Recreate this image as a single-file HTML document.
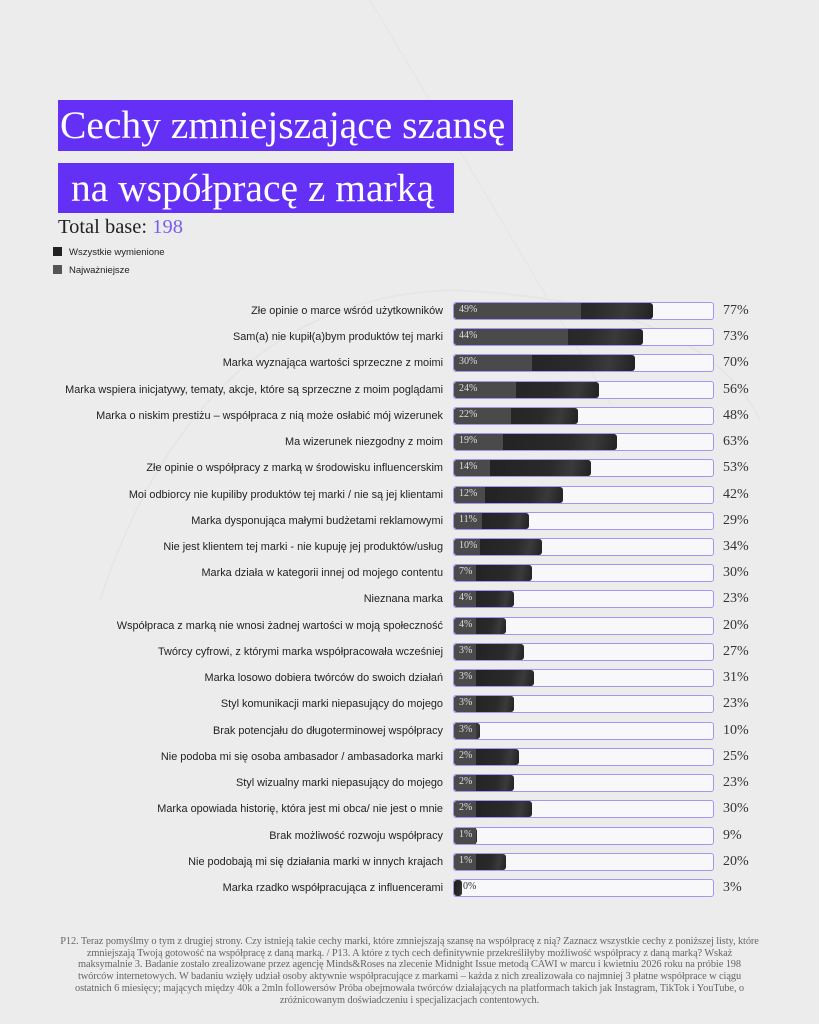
<!DOCTYPE html>
<html><head><meta charset="utf-8"><style>
body{margin:0;width:819px;height:1024px;background:#ececec;position:relative;overflow:hidden;font-family:"Liberation Sans",sans-serif}
.t{position:absolute;left:58px;background:#6530f5;color:#fff;font-family:"Liberation Serif",serif;font-size:39.5px;line-height:50px;white-space:nowrap}
.row{position:absolute;left:0;width:819px;height:18px}
.lab{position:absolute;right:376px;top:1px;font-size:10.9px;color:#222;white-space:nowrap;line-height:16px}
.tr{position:absolute;left:453px;width:259px;height:16px;top:0;border:1px solid #a595f3;border-radius:3px;background:#f8f8fa}
.dk{position:absolute;left:0;top:0;height:16px;background:linear-gradient(100deg,#1e1e1e 0%,#2a2a2a 70%,#3a3a3a 85%,#222 100%);border-radius:3px}
.gr{position:absolute;left:0;top:0;height:16px;background:#4a4a4a;border-radius:3px 0 0 3px;color:#ddd;font-family:"Liberation Serif",serif;font-size:10px;line-height:14px;padding-left:5px;box-sizing:border-box;min-width:22px;white-space:nowrap}
.v{position:absolute;left:723px;top:0;font-family:"Liberation Serif",serif;font-size:14px;color:#333;line-height:18px}
.foot{position:absolute;left:0;width:819px;top:936px;text-align:center;font-family:"Liberation Serif",serif;font-size:10.4px;line-height:11.7px;color:#666;letter-spacing:-0.1px;white-space:nowrap}
</style></head><body>
<svg style="position:absolute;left:0;top:0" width="819" height="1024"><path d="M100 600 Q200 300 450 290 Q700 300 760 420" fill="none" stroke="#e6e6e6" stroke-width="2"/><path d="M370 0 L620 420" stroke="#e7e7e7" stroke-width="1.5"/></svg>
<div class="t" style="top:100px;width:455px;height:51px;padding-left:2px;box-sizing:border-box">Cechy zmniejszające szansę</div>
<div class="t" style="top:163px;width:396px;height:50px;padding-left:13px;box-sizing:border-box">na współpracę z marką</div>
<div style="position:absolute;left:58px;top:216px;font-family:'Liberation Serif',serif;font-size:20.5px;color:#222">Total base: <span style="color:#7b5cf0">198</span></div>
<div style="position:absolute;left:53px;top:247px;font-size:9.5px;color:#222"><span style="display:inline-block;width:9px;height:9px;background:#222;margin-right:7px;vertical-align:-1px"></span>Wszystkie wymienione</div>
<div style="position:absolute;left:53px;top:265px;font-size:9.5px;color:#222"><span style="display:inline-block;width:9px;height:9px;background:#555;margin-right:7px;vertical-align:-1px"></span>Najważniejsze</div>

<div class="row" style="top:302px"><div class="lab">Złe opinie o marce wśród użytkowników</div><div class="tr"><div class="dk" style="width:77%"></div><div class="gr" style="width:49%">49%</div></div><div class="v">77%</div></div>
<div class="row" style="top:328px"><div class="lab">Sam(a) nie kupił(a)bym produktów tej marki</div><div class="tr"><div class="dk" style="width:73%"></div><div class="gr" style="width:44%">44%</div></div><div class="v">73%</div></div>
<div class="row" style="top:354px"><div class="lab">Marka wyznająca wartości sprzeczne z moimi</div><div class="tr"><div class="dk" style="width:70%"></div><div class="gr" style="width:30%">30%</div></div><div class="v">70%</div></div>
<div class="row" style="top:381px"><div class="lab">Marka wspiera inicjatywy, tematy, akcje, które są sprzeczne z moim poglądami</div><div class="tr"><div class="dk" style="width:56%"></div><div class="gr" style="width:24%">24%</div></div><div class="v">56%</div></div>
<div class="row" style="top:407px"><div class="lab">Marka o niskim prestiżu – współpraca z nią może osłabić mój wizerunek</div><div class="tr"><div class="dk" style="width:48%"></div><div class="gr" style="width:22%">22%</div></div><div class="v">48%</div></div>
<div class="row" style="top:433px"><div class="lab">Ma wizerunek niezgodny z moim</div><div class="tr"><div class="dk" style="width:63%"></div><div class="gr" style="width:19%">19%</div></div><div class="v">63%</div></div>
<div class="row" style="top:459px"><div class="lab">Złe opinie o współpracy z marką w środowisku influencerskim</div><div class="tr"><div class="dk" style="width:53%"></div><div class="gr" style="width:14%">14%</div></div><div class="v">53%</div></div>
<div class="row" style="top:486px"><div class="lab">Moi odbiorcy nie kupiliby produktów tej marki / nie są jej klientami</div><div class="tr"><div class="dk" style="width:42%"></div><div class="gr" style="width:12%">12%</div></div><div class="v">42%</div></div>
<div class="row" style="top:512px"><div class="lab">Marka dysponująca małymi budżetami reklamowymi</div><div class="tr"><div class="dk" style="width:29%"></div><div class="gr" style="width:11%">11%</div></div><div class="v">29%</div></div>
<div class="row" style="top:538px"><div class="lab">Nie jest klientem tej marki - nie kupuję jej produktów/usług</div><div class="tr"><div class="dk" style="width:34%"></div><div class="gr" style="width:10%">10%</div></div><div class="v">34%</div></div>
<div class="row" style="top:564px"><div class="lab">Marka działa w kategorii innej od mojego contentu</div><div class="tr"><div class="dk" style="width:30%"></div><div class="gr" style="width:7%">7%</div></div><div class="v">30%</div></div>
<div class="row" style="top:590px"><div class="lab">Nieznana marka</div><div class="tr"><div class="dk" style="width:23%"></div><div class="gr" style="width:4%">4%</div></div><div class="v">23%</div></div>
<div class="row" style="top:617px"><div class="lab">Współpraca z marką nie wnosi żadnej wartości w moją społeczność</div><div class="tr"><div class="dk" style="width:20%"></div><div class="gr" style="width:4%">4%</div></div><div class="v">20%</div></div>
<div class="row" style="top:643px"><div class="lab">Twórcy cyfrowi, z którymi marka współpracowała wcześniej</div><div class="tr"><div class="dk" style="width:27%"></div><div class="gr" style="width:3%">3%</div></div><div class="v">27%</div></div>
<div class="row" style="top:669px"><div class="lab">Marka losowo dobiera twórców do swoich działań</div><div class="tr"><div class="dk" style="width:31%"></div><div class="gr" style="width:3%">3%</div></div><div class="v">31%</div></div>
<div class="row" style="top:695px"><div class="lab">Styl komunikacji marki niepasujący do mojego</div><div class="tr"><div class="dk" style="width:23%"></div><div class="gr" style="width:3%">3%</div></div><div class="v">23%</div></div>
<div class="row" style="top:722px"><div class="lab">Brak potencjału do długoterminowej współpracy</div><div class="tr"><div class="dk" style="width:10%"></div><div class="gr" style="width:3%">3%</div></div><div class="v">10%</div></div>
<div class="row" style="top:748px"><div class="lab">Nie podoba mi się osoba ambasador / ambasadorka marki</div><div class="tr"><div class="dk" style="width:25%"></div><div class="gr" style="width:2%">2%</div></div><div class="v">25%</div></div>
<div class="row" style="top:774px"><div class="lab">Styl wizualny marki niepasujący do mojego</div><div class="tr"><div class="dk" style="width:23%"></div><div class="gr" style="width:2%">2%</div></div><div class="v">23%</div></div>
<div class="row" style="top:800px"><div class="lab">Marka opowiada historię, która jest mi obca/ nie jest o mnie</div><div class="tr"><div class="dk" style="width:30%"></div><div class="gr" style="width:2%">2%</div></div><div class="v">30%</div></div>
<div class="row" style="top:827px"><div class="lab">Brak możliwość rozwoju współpracy</div><div class="tr"><div class="dk" style="width:9%"></div><div class="gr" style="width:1%">1%</div></div><div class="v">9%</div></div>
<div class="row" style="top:853px"><div class="lab">Nie podobają mi się działania marki w innych krajach</div><div class="tr"><div class="dk" style="width:20%"></div><div class="gr" style="width:1%">1%</div></div><div class="v">20%</div></div>
<div class="row" style="top:879px"><div class="lab">Marka rzadko współpracująca z influencerami</div><div class="tr"><div class="dk" style="width:3%"></div><div class="gr" style="width:0%;min-width:0;background:none;color:#333;padding-left:9px">0%</div></div><div class="v">3%</div></div>

<div class="foot">P12. Teraz pomyślmy o tym z drugiej strony. Czy istnieją takie cechy marki, które zmniejszają szansę na współpracę z nią? Zaznacz wszystkie cechy z poniższej listy, które<br>zmniejszają Twoją gotowość na współpracę z daną marką. / P13. A które z tych cech definitywnie przekreśliłyby możliwość współpracy z daną marką? Wskaż<br>maksymalnie 3. Badanie zostało zrealizowane przez agencję Minds&amp;Roses na zlecenie Midnight Issue metodą CAWI w marcu i kwietniu 2026 roku na próbie 198<br>twórców internetowych. W badaniu wzięły udział osoby aktywnie współpracujące z markami – każda z nich zrealizowała co najmniej 3 płatne współprace w ciągu<br>ostatnich 6 miesięcy; mających między 40k a 2mln followersów Próba obejmowała twórców działających na platformach takich jak Instagram, TikTok i YouTube, o<br>zróżnicowanym doświadczeniu i specjalizacjach contentowych.</div>
</body></html>
